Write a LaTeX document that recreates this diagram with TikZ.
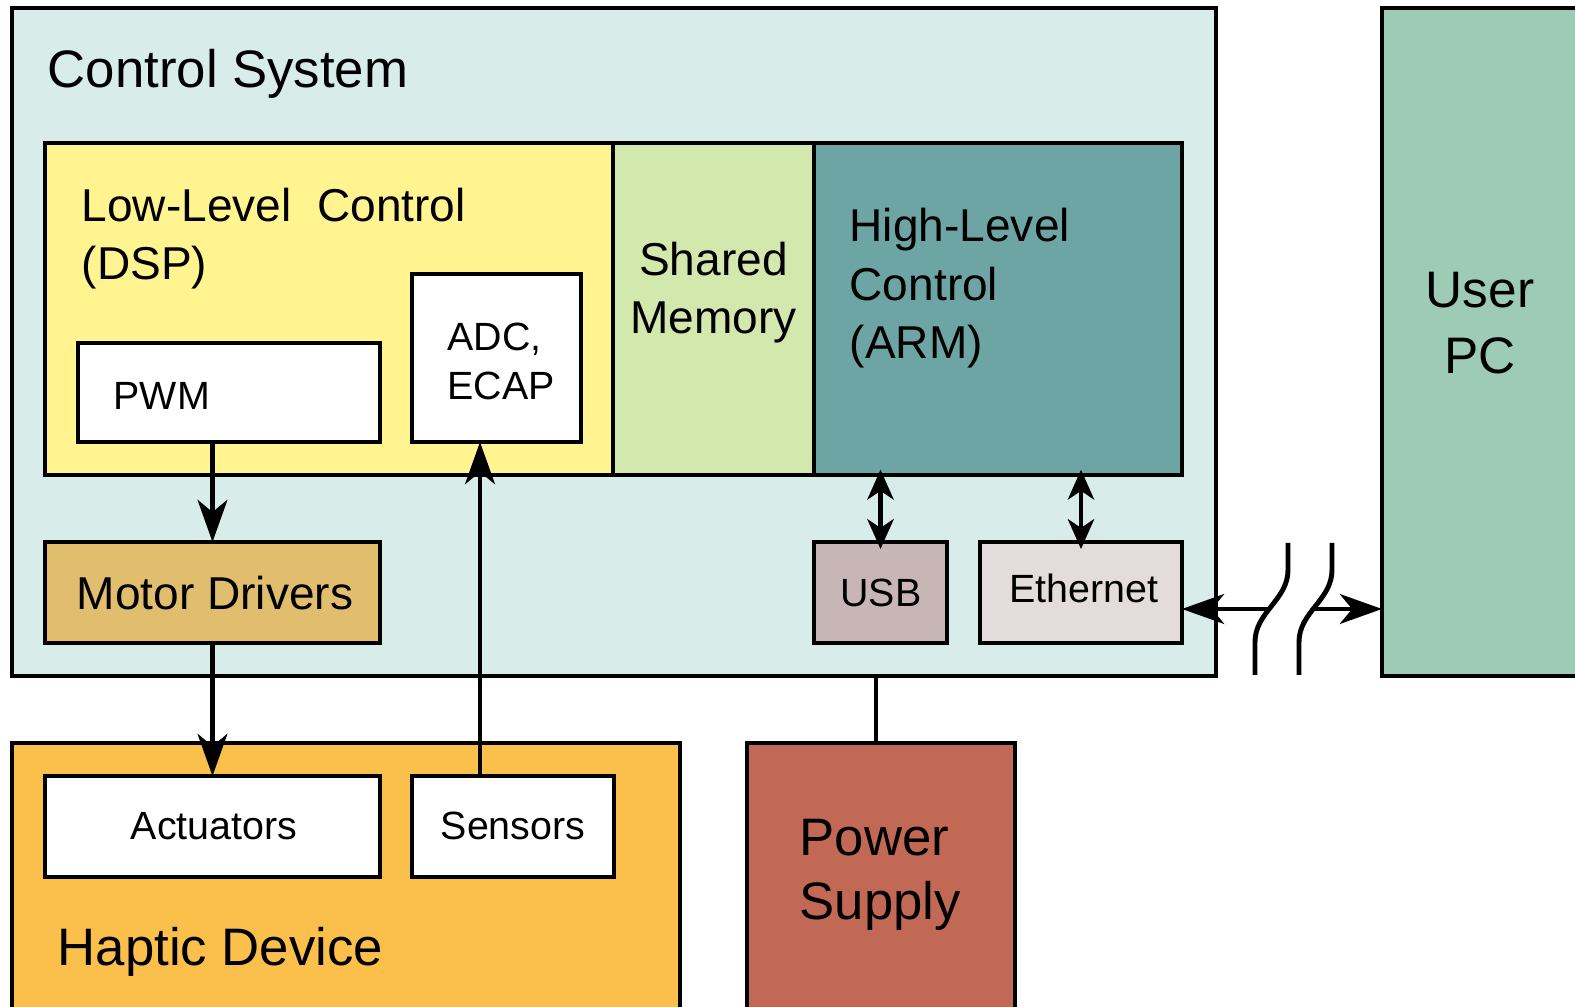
\documentclass[tikz,border=0pt]{standalone}
\usepackage{fontspec}
\setmainfont{Liberation Sans}
\usetikzlibrary{arrows.meta}

\definecolor{csfill}{HTML}{D8ECEA}
\definecolor{llfill}{HTML}{FFF48F}
\definecolor{smfill}{HTML}{D2E8AD}
\definecolor{hlfill}{HTML}{6DA5A4}
\definecolor{pcfill}{HTML}{9DCBB6}
\definecolor{mdfill}{HTML}{E0BE6D}
\definecolor{usbfill}{HTML}{C8B6B6}
\definecolor{ethfill}{HTML}{E4DBDC}
\definecolor{hdfill}{HTML}{FBC04B}
\definecolor{psfill}{HTML}{C26955}

% block with corners (x1,y1) and (x2,y2) in pixel units, y downwards
\newcommand\mkblock[6]{%
  \node[blk, fill=#6, anchor=north west,
        minimum width={(#4-#2)*0.01cm}, minimum height={(#5-#3)*0.01cm}]
        (#1) at (#2,#3) {};}

\begin{document}
\begin{tikzpicture}[x=0.01cm, y=-0.01cm,
  blk/.style={draw=black, line width=1.3pt, inner sep=0pt, outer sep=0pt},
  conn/.style={line width=1.2pt, draw=black},
  tip/.tip={Stealth[length=12pt, width=8.5pt, inset=3.5pt]},
  dtip/.tip={Stealth[length=8.5pt, width=7.5pt, inset=2.5pt]},
  arr/.style={conn, -tip},
  darr/.style={conn, dtip-dtip, shorten <=-1.5pt, shorten >=-2pt},
  larr/.style={conn, tip-},
  big/.style={inner sep=0pt, font=\fontsize{15}{17}\selectfont},
  mid/.style={inner sep=0pt, font=\fontsize{13.1}{15}\selectfont},
  small/.style={inner sep=0pt, font=\fontsize{11.2}{13}\selectfont},
  pcfont/.style={inner sep=0pt, font=\fontsize{14.6}{17}\selectfont}]

\clip[use as bounding box] (0,0) rectangle (1575,1007);
\fill[white] (0,0) rectangle (1575,1007);

% control system and its parts
\mkblock{cs}{12}{8}{1216}{676}{csfill}
\mkblock{llc}{45}{143}{613}{475}{llfill}
\mkblock{shm}{613}{143}{814}{475}{smfill}
\mkblock{hlc}{814}{143}{1182}{475}{hlfill}
\mkblock{pwm}{78}{343}{380}{442}{white}
\mkblock{adc}{412}{274}{581}{442}{white}
\mkblock{motor}{45}{542}{380}{643}{mdfill}
\mkblock{usb}{814}{542}{947}{643}{usbfill}
\mkblock{eth}{980}{542}{1182}{643}{ethfill}

% user PC
\mkblock{pc}{1382}{8}{1640}{676}{pcfill}

% haptic device and power supply
\mkblock{hd}{12}{743}{680}{1040}{hdfill}
\mkblock{act}{45}{776}{380}{877}{white}
\mkblock{sens}{412}{776}{614}{877}{white}
\mkblock{ps}{747}{743}{1015}{1040}{psfill}

% labels
\node[big, anchor=base west] (tcs) at (47,88) {Control System};
\node[mid, anchor=base west] (tll1) at (81,222) {Low-Level\ \ Control};
\node[mid, anchor=base west] (tll2) at (81,280) {(DSP)};
\node[mid, anchor=base] (tsm1) at (713.5,276) {Shared};
\node[mid, anchor=base] (tsm2) at (713.5,334) {Memory};
\node[mid, anchor=base west] (thl1) at (849,242) {High-Level};
\node[mid, anchor=base west] (thl2) at (849,301) {Control};
\node[mid, anchor=base west] (thl3) at (849,359) {(ARM)};
\node[small, anchor=base west] (tpwm) at (113,410) {PWM};
\node[small, anchor=base west] (tadc1) at (447,351) {ADC,};
\node[small, anchor=base west] (tadc2) at (447,400) {ECAP};
\node[mid, anchor=base] (tmd) at (215,610) {Motor Drivers};
\node[small, anchor=base] (tusb) at (881,607) {USB};
\node[small, anchor=base] (teth) at (1084,603) {Ethernet};
\node[pcfont, anchor=base] (tpc1) at (1480,308) {User};
\node[pcfont, anchor=base] (tpc2) at (1480,374) {PC};
\node[small, anchor=base] (tact) at (214,840) {Actuators};
\node[small, anchor=base] (tsen) at (513,840) {Sensors};
\node[big, anchor=base west] (tps1) at (799,856) {Power};
\node[big, anchor=base west] (tps2) at (799,920) {Supply};
\node[big, anchor=base west] (thd) at (57,966) {Haptic Device};

% connectors
\coordinate (sx) at (480,0);
\coordinate (px) at (876,0);
\coordinate (ey) at (0,609);
\coordinate (brkA) at (1269,609);
\coordinate (brkB) at (1313,609);

\draw[arr] (pwm.south -| motor.north) -- (motor.north);
\draw[arr] (motor.south) -- (act.north);
\draw[arr] (sens.north -| sx) -- (adc.south -| sx);
\draw[darr] (hlc.south -| usb.north) -- (usb.north);
\draw[darr] (hlc.south -| eth.north) -- (eth.north);
\draw[conn] (cs.south -| px) -- (ps.north -| px);
\draw[larr] (eth.east |- ey) -- (brkA);
\draw[arr] (brkB) -- (pc.west |- ey);

% break marks on the link to the PC
\draw[conn, line width=1.4pt] (1288,543) -- (1288,570) .. controls (1288,600) and (1255,612) .. (1255,642) -- (1255,675);
\draw[conn, line width=1.4pt] (1332,543) -- (1332,570) .. controls (1332,600) and (1299,612) .. (1299,642) -- (1299,675);
\end{tikzpicture}
\end{document}
